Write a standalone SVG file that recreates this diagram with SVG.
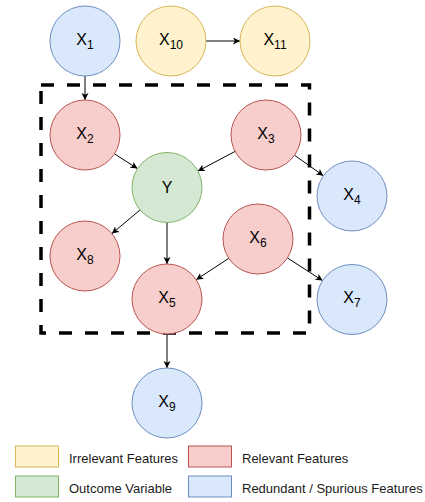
<svg xmlns="http://www.w3.org/2000/svg" width="425" height="502" viewBox="0 0 425 502">
<style>
  .blue{fill:#dae8fc;stroke:#6c8ebf;stroke-width:1}
  .yellow{fill:#fff2cc;stroke:#d6b656;stroke-width:1}
  .red{fill:#f8cecc;stroke:#b85450;stroke-width:1}
  .green{fill:#d5e8d4;stroke:#82b366;stroke-width:1}
  .lbl{font-family:"Liberation Sans",Arial,Helvetica,sans-serif;font-size:16px;fill:#000;text-anchor:middle}
  .sub{font-size:12px}
  .leg{font-family:"Liberation Sans",Arial,Helvetica,sans-serif;font-size:13px;fill:#1a1a1a}
  .edge{stroke:#000;stroke-width:1;fill:none;marker-end:url(#arr)}
</style>
<defs>
  <marker id="arr" markerUnits="userSpaceOnUse" markerWidth="10" markerHeight="10" refX="7" refY="3.5" orient="auto">
    <path d="M0,0 L7,3.5 L0,7 L1.8,3.5 Z" fill="#000"/>
  </marker>
</defs>
<rect id="boundary" x="41" y="85" width="268.5" height="248" fill="none" stroke="#000" stroke-width="3.5" stroke-dasharray="13 13"/>
<g id="connectors">
  <line class="edge" x1="85" y1="76" x2="85" y2="100"/>
  <line class="edge" x1="206" y1="41" x2="240" y2="41"/>
  <line class="edge" x1="114.5" y1="153.9" x2="137.5" y2="168.6"/>
  <line class="edge" x1="235.1" y1="151.4" x2="197.9" y2="171.1"/>
  <line class="edge" x1="294.6" y1="155.3" x2="323.4" y2="175.7"/>
  <line class="edge" x1="140.1" y1="209.9" x2="111.9" y2="233.6"/>
  <line class="edge" x1="167" y1="222.5" x2="167" y2="264"/>
  <line class="edge" x1="228.8" y1="258.3" x2="196.2" y2="279.7"/>
  <line class="edge" x1="287.4" y1="257.9" x2="322.6" y2="280.6"/>
  <line class="edge" x1="167" y1="334" x2="167" y2="368"/>
</g>
<g id="X1"><circle class="blue" cx="85" cy="41" r="35"/><text class="lbl" x="85" y="44.5">X<tspan class="sub" dy="4">1</tspan></text></g>
<g id="X10"><circle class="yellow" cx="171" cy="41" r="35"/><text class="lbl" x="171" y="44.5">X<tspan class="sub" dy="4">10</tspan></text></g>
<g id="X11"><circle class="yellow" cx="275" cy="41" r="35"/><text class="lbl" x="275" y="44.5">X<tspan class="sub" dy="4">11</tspan></text></g>
<g id="X2"><circle class="red" cx="85" cy="135" r="35"/><text class="lbl" x="85" y="138.5">X<tspan class="sub" dy="4">2</tspan></text></g>
<g id="X3"><circle class="red" cx="266" cy="135" r="35"/><text class="lbl" x="266" y="138.5">X<tspan class="sub" dy="4">3</tspan></text></g>
<g id="Y"><circle class="green" cx="167" cy="187.5" r="35"/><text class="lbl" x="167" y="193">Y</text></g>
<g id="X4"><circle class="blue" cx="352" cy="196" r="35"/><text class="lbl" x="352" y="199.5">X<tspan class="sub" dy="4">4</tspan></text></g>
<g id="X8"><circle class="red" cx="85" cy="256" r="35"/><text class="lbl" x="85" y="259.5">X<tspan class="sub" dy="4">8</tspan></text></g>
<g id="X6"><circle class="red" cx="258" cy="239" r="35"/><text class="lbl" x="258" y="242.5">X<tspan class="sub" dy="4">6</tspan></text></g>
<g id="X5"><circle class="red" cx="167" cy="299" r="35"/><text class="lbl" x="167" y="302.5">X<tspan class="sub" dy="4">5</tspan></text></g>
<g id="X7"><circle class="blue" cx="352" cy="299.5" r="35"/><text class="lbl" x="352" y="303">X<tspan class="sub" dy="4">7</tspan></text></g>
<g id="X9"><circle class="blue" cx="167" cy="403" r="35"/><text class="lbl" x="167" y="406.5">X<tspan class="sub" dy="4">9</tspan></text></g>
<g id="legend">
  <rect class="yellow" x="15.5" y="446" width="43" height="21"/>
  <text class="leg" x="69" y="463">Irrelevant Features</text>
  <rect class="red" x="188.5" y="446" width="43" height="21"/>
  <text class="leg" x="242" y="463">Relevant Features</text>
  <rect class="green" x="15.5" y="476" width="43" height="21"/>
  <text class="leg" x="69" y="493">Outcome Variable</text>
  <rect class="blue" x="188.5" y="476" width="43" height="21"/>
  <text class="leg" x="242" y="493">Redundant / Spurious Features</text>
</g>
</svg>
